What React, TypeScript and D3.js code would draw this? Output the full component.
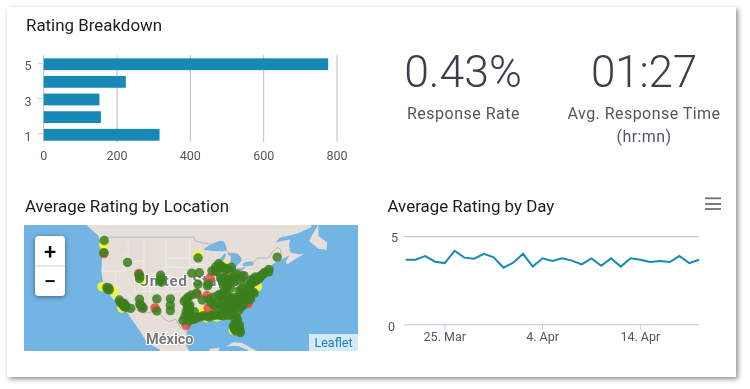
import React from "react";
import * as d3 from "d3";

const ratingLabels = ["5", "4", "3", "2", "1"];
const ratingCounts = [776, 224, 152, 156, 316];
const countTicks = [0, 200, 400, 600, 800];

const dayValues = [3.69, 3.69, 3.9, 3.58, 3.5, 4.2, 3.81, 3.75, 4.03, 3.83, 3.24, 3.52, 4.03, 3.3, 3.77, 3.62, 3.77, 3.64, 3.43, 3.77, 3.35, 3.77, 3.3, 3.77, 3.69, 3.56, 3.62, 3.56, 3.9, 3.5, 3.69];
const dayStart = Date.UTC(2019, 2, 21);
const dayTicks = [Date.UTC(2019, 2, 25), Date.UTC(2019, 3, 4), Date.UTC(2019, 3, 14)];
const dayTickLabels = ["25. Mar", "4. Apr", "14. Apr"];

const northAmerica: [number, number][] = [[-140,62],[-135,58],[-130,54.5],[-129,51.8],[-125.5,49.8],[-124.7,48.4],[-124.2,46],[-124.5,42],[-124,39.5],[-122.8,37.5],[-120.8,35],[-118.5,34],[-117.1,32.5],[-115,29.8],[-112,26],[-110,23],[-106,21],[-105,15],[-90,15],[-90,18],[-88,18],[-87,21.5],[-90,21.2],[-91,18.7],[-94.5,18.2],[-96,19.5],[-97.5,22],[-97.5,25.5],[-97.2,27.7],[-94.8,29.4],[-93,29.7],[-90,29.1],[-89,30.3],[-85.5,29.8],[-84,30],[-82.8,28],[-81.8,26],[-81,25.1],[-80.2,25.7],[-80.5,28],[-81.4,30.5],[-79,33.2],[-76,34.8],[-75.5,36],[-76,37.5],[-75,38.5],[-74,40.5],[-72,41],[-70,41.7],[-71,42.5],[-70,43.7],[-67,44.8],[-64.8,45.6],[-66,44.2],[-65.5,43.5],[-63,44.7],[-60,46],[-61.5,45.8],[-64.5,46.2],[-65,48],[-64.5,49],[-69,48.5],[-68,49.3],[-62,50.3],[-58,51.5],[-57,53],[-57,62]];
const newfoundland: [number, number][] = [[-58.6,48.7],[-57.5,50],[-55.7,52],[-55.5,49.7],[-52.8,48.4],[-53,46.8],[-55.5,47]];
const cuba: [number, number][] = [[-85,21.9],[-82.5,23.1],[-80,23],[-76,21],[-74.2,20.2],[-77.5,19.9],[-78,20.8],[-81,22],[-83,22]];
const lakes: [number, number][][] = [
  [[-92,46.8],[-89,48.2],[-86,48.7],[-84.7,47],[-85,46.6],[-87.5,46.5],[-90,46.6]],
  [[-87.8,42],[-87.6,44],[-85.2,46],[-85,45.6],[-86.3,43.5],[-86.7,41.8]],
  [[-84.5,46],[-81.5,46],[-80,44.6],[-81.7,43.2],[-82.5,43],[-83.5,44],[-83.4,45.2]],
  [[-83.3,41.7],[-81.5,41.6],[-78.9,42.8],[-80.5,42.7],[-83,42.1]],
  [[-79.7,43.3],[-76.3,43.4],[-76.4,44.1],[-79.2,43.9]],
  [[-70.5,47.2],[-68,49],[-66.5,50],[-68,48.8],[-70,47.6]],
];
const borders: [number, number][][] = [
  [[-123,49.5],[-95.2,49.5],[-94.6,48.7],[-92,48.3],[-89.5,48],[-84.6,46.5],[-82.5,45.3],[-82.4,43],[-83,42],[-79,42.8],[-79,43.4],[-76.8,43.7],[-75,45],[-71.5,45],[-70,46.5],[-68.5,47.3],[-67.7,47],[-67.4,45.3]],
  [[-117.1,32.5],[-114.7,32.7],[-111,31.3],[-108.2,31.7],[-106.5,31.8],[-104.5,29.6],[-103,29],[-101,29.7],[-99.5,27.5],[-97.2,25.9]],
];
const stateLines: [number, number][][] = [
  [[-116,49],[-116,44],[-111,44.5]],[[-111,49],[-111,37]],[[-104,49],[-104,37]],[[-117,46],[-117,42],[-124.3,42]],[[-120,42],[-120,39],[-114.6,35]],[[-114,42],[-114,37]],[[-114,37],[-102,37],[-94.6,37]],[[-111,41],[-102,41],[-102,37]],[[-104,45],[-96.5,45]],[[-104,43],[-96.5,42.7]],[[-109,41],[-109,31.5]],[[-103,37],[-103,32],[-106.5,32]],[[-96.5,49],[-96.5,42.5],[-94.6,39],[-94.6,36.5],[-94.4,33.5]],[[-91.5,43.5],[-96.5,43.5]],[[-91,40.6],[-95.7,40.6]],[[-94.6,36.5],[-89.5,36.5],[-81.7,36.6],[-75.9,36.6]],[[-91,33],[-94,33]],[[-85,35],[-91,35]],[[-88.2,35],[-88.4,30.3]],[[-85.2,35],[-85,31],[-84.9,30.7],[-87.5,31]],[[-81,35],[-83.3,35],[-85,35]],[[-84.8,41.7],[-84.8,39.1]],[[-87.5,41.7],[-87.6,39],[-88,37.8]],[[-80.5,42],[-80.5,39.7],[-75.7,39.7]],[[-79.8,42.2],[-75.3,42]],[[-73.5,45],[-73.5,41]],[[-71.5,45],[-71,42.9]],
];

const greenCities: [number, number][] = [[-123.6,48.8],[-123.7,46.2],[-116.2,44],[-112.6,41.2],[-112.3,40.7],[-112.4,40.2],[-105.7,41],[-105.6,40.3],[-105.7,39.7],[-105.5,39.3],[-122.8,38],[-122.5,37.6],[-122.2,37.9],[-122,37.4],[-118.8,34.8],[-118.5,34.2],[-118.1,34],[-117.8,33.7],[-117.4,34],[-117.5,33.3],[-117.1,33],[-116.8,33.4],[-116.6,32.9],[-115.2,32.6],[-112.4,35],[-112.3,33.7],[-112,33.4],[-111.7,33.2],[-111.2,32.7],[-106.9,35.1],[-106.9,31.9],[-102.6,35.1],[-102.6,33.4],[-102.6,32],[-98.6,29.3],[-98,30.4],[-97.6,31.7],[-97.2,32.7],[-96.9,33.2],[-96.6,32.8],[-96.4,33.5],[-96.4,32.2],[-97.3,33.6],[-97.6,35],[-96.9,35.6],[-98.2,34.5],[-95.4,29.8],[-95.8,30.1],[-95.1,29.6],[-96.7,29.2],[-97,30.6],[-96.2,31],[-95,31.7],[-94.1,30.2],[-93.3,30.3],[-92.2,30.6],[-91.2,30.5],[-90.3,30.2],[-89.6,30.7],[-88.7,30.7],[-88.2,30.8],[-87.2,30.8],[-86.5,30.7],[-85.8,30.6],[-84.4,30.7],[-95.9,36.1],[-93.8,38.8],[-95.8,41.5],[-93.4,41.6],[-93.8,45],[-90.5,38.9],[-90.8,38.4],[-92.5,34.8],[-94.3,36.6],[-90.3,35],[-89.8,34.2],[-88.9,33.5],[-88,33],[-87.5,34.4],[-88.8,35.6],[-87.3,36.1],[-86.8,36.2],[-86.3,35.8],[-85.8,36.8],[-85,36],[-84.5,35.8],[-84.5,39.2],[-85.7,38.4],[-84.7,38],[-83.6,37.8],[-83,40],[-82.3,40.6],[-81.7,41.3],[-82.6,39.3],[-84.1,40],[-85.7,40.2],[-86.3,39.8],[-86.7,40.3],[-87.8,41.9],[-88.3,42],[-88.2,43],[-89.4,42],[-87.3,43.7],[-86.5,43.2],[-85.8,42.8],[-85.2,42.2],[-84.4,42.6],[-83.7,42.2],[-83.2,42.9],[-80,40.4],[-79.3,40.9],[-80.3,39.5],[-79.9,37.6],[-80.8,37.2],[-78.5,38],[-77.5,37.6],[-77,37],[-76.3,36.8],[-76,36.5],[-77,38.9],[-77.3,38.5],[-76.6,39.3],[-75.6,39.5],[-75.2,39.9],[-74.8,40],[-74.3,40.3],[-74,40.7],[-73.7,41],[-73,41.3],[-72.7,41.7],[-71.4,41.8],[-71.3,42.4],[-76.2,40.2],[-75.5,40.6],[-77.5,39.8],[-68.7,45.2],[-77.5,36],[-78,35.7],[-78.7,35.8],[-78,34.8],[-77.2,35],[-79,35.2],[-79.5,35],[-79.8,36.1],[-80.3,36],[-80,34.5],[-80.5,34],[-80.8,35.2],[-81.2,35.4],[-80.8,33.5],[-81.5,33.2],[-81.2,34.2],[-82,34.8],[-82.6,35.5],[-83.2,35],[-82,32.7],[-82.5,32.2],[-83,33],[-83.5,32.2],[-81,32],[-80.2,32.9],[-79.5,33.4],[-84.4,33.7],[-84.3,34.2],[-84.7,33.3],[-83.6,33.9],[-85,32.5],[-85.5,33],[-86.3,32.4],[-86.8,33.5],[-85.8,34.4],[-85.5,31.3],[-84.2,31.6],[-83.3,30.9],[-81.7,30.3],[-82.2,29.7],[-81.4,28.8],[-81.7,28.2],[-82.4,28],[-82.6,27.6],[-82.1,27],[-81.8,26.4],[-81.2,27.4],[-80.7,28],[-80.6,27],[-80.5,26.3],[-80.4,25.9],[-81.3,29.5],[-82.2,26.7]];
const yellowCities: [number, number][] = [[-85.6,43.3],[-83,40.5],[-84.3,38],[-89.7,35.2],[-92.6,31.9],[-82.4,30.2],[-91,30],[-120.8,37.2],[-120.5,36.9],[-123.7,47.9],[-118,32.7],[-124.3,38.2],[-75,38.2],[-93.8,45.6],[-82.6,26.6],[-87.8,30.3],[-112,40]];
const redCities: [number, number][] = [[-97.6,28],[-123.7,46],[-112.6,41.4],[-107.5,32.7],[-111.6,32.7],[-78.6,34.2],[-77.9,33.9],[-90.6,32.7],[-94.1,36.3],[-91,35.9],[-90,40.3],[-77.3,35],[-94.1,30],[-85.3,40.5],[-80.2,41],[-84.6,38.3],[-89,31]];

const W = 750, H = 389;
const blue = "#158ab5";
const ink = "#555560";
const font = "Roboto, 'Open Sans', sans-serif";

export default function App() {
  const xBar = d3.scaleLinear().domain([0, 800]).range([43.7, 337]);
  const yBar = d3.scaleBand<string>().domain(ratingLabels).range([55.5, 143.5]).paddingInner(0.33).paddingOuter(0.16);

  const xDay = d3.scaleUtc().domain([dayStart, dayStart + 30 * 864e5]).range([405.7, 699]);
  const yDay = d3.scaleLinear().domain([0, 5]).range([324.7, 236.7]);
  const dayLine = d3.line<number>().x((_, i) => xDay(dayStart + i * 864e5)).y(d => yDay(d));

  const proj = d3.geoMercator().scale(180.5).translate([0, 0]);
  const o = proj([-117, 32.7]) as [number, number];
  proj.translate([125 - o[0], 308 - o[1]]);
  const ln = d3.line<[number, number]>().x(d => (proj(d) as number[])[0]).y(d => (proj(d) as number[])[1]);
  const smooth = d3.line<[number, number]>().x(d => (proj(d) as number[])[0]).y(d => (proj(d) as number[])[1]).curve(d3.curveCatmullRomClosed.alpha(0.5));

  const dots = (list: [number, number][], fill: string, op: number, r: number) =>
    list.map((d, i) => {
      const p = proj(d) as [number, number];
      return <circle key={fill + i} cx={p[0]} cy={p[1]} r={r} fill={fill} fillOpacity={op} />;
    });

  return (
    <svg width={W} height={H} style={{ position: "absolute", left: 0, top: 0, fontFamily: font }}>
      <defs>
        <filter id="card" x="-5%" y="-5%" width="110%" height="110%">
          <feDropShadow dx="2" dy="2" stdDeviation="2.5" floodColor="#000" floodOpacity="0.45" />
        </filter>
        <filter id="ctl" x="-30%" y="-30%" width="160%" height="160%">
          <feDropShadow dx="0" dy="1" stdDeviation="2.5" floodColor="#000" floodOpacity="0.45" />
        </filter>
        <filter id="soft" x="0" y="0" width="100%" height="100%" filterUnits="objectBoundingBox">
          <feGaussianBlur stdDeviation="0.35" />
        </filter>
        <clipPath id="mapClip"><rect x={24} y={225} width={334} height={126} /></clipPath>
      </defs>
      <rect width={W} height={H} fill="#fff" />
      <rect x={7} y={7} width={729} height={370} fill="#fff" filter="url(#card)" />

      <g filter="url(#soft)">
      <rect x={7} y={7} width={729} height={370} fill="#fff" />
      <text x={26} y={31} fontSize={16.9} fill="#1c1c22">Rating Breakdown</text>
      {countTicks.map(t => (
        <g key={t}>
          <line x1={xBar(t)} x2={xBar(t)} y1={55} y2={142} stroke="#bdbdbd" strokeWidth={1} />
          <text x={xBar(t)} y={160} fontSize={12.5} textAnchor="middle" fill={ink}>{t}</text>
        </g>
      ))}
      {ratingLabels.map((r, i) => (
        <rect key={r} x={xBar(0)} y={yBar(r)} width={xBar(ratingCounts[i]) - xBar(0)} height={yBar.bandwidth()} fill={blue} />
      ))}
      {ratingLabels.filter(r => r !== "4" && r !== "2").map(r => (
        <g key={r}>
          <line x1={38} x2={43.7} y1={yBar(r)! + yBar.bandwidth() / 2 - 1} y2={yBar(r)! + yBar.bandwidth() / 2 - 1} stroke="#c4c4c4" />
          <text x={28} y={yBar(r)! + yBar.bandwidth() / 2 + 6} fontSize={12.5} textAnchor="middle" fill={ink}>{r}</text>
        </g>
      ))}

      <text x={463} y={87} fontSize={44.5} fontWeight={300} textAnchor="middle" fill="#3c3c4e">0.43%</text>
      <text x={644} y={87} fontSize={44} fontWeight={300} textAnchor="middle" fill="#3c3c4e" letterSpacing={-0.2}>01:27</text>
      <text x={463.5} y={119} fontSize={16} textAnchor="middle" fill={ink} letterSpacing={0.5}>Response Rate</text>
      <text x={644} y={119} fontSize={16} textAnchor="middle" fill={ink} letterSpacing={0.45}>Avg. Response Time</text>
      <text x={644} y={142} fontSize={16} textAnchor="middle" fill={ink} letterSpacing={0.4}>(hr:mn)</text>

      <text x={25} y={212} fontSize={16.9} fill="#1c1c22">Average Rating by Location</text>
      <g clipPath="url(#mapClip)">
        <rect x={24} y={225} width={334} height={126} fill="#72b4e3" />
        <path d={ln(northAmerica)! + "Z"} fill="#e6dfd9" />
        <path d={ln(newfoundland)! + "Z"} fill="#e6dfd9" />
        <path d={ln(cuba)! + "Z"} fill="#e6dfd9" />
        {stateLines.map((s, i) => <path key={i} d={ln(s)!} fill="none" stroke="#f2eeea" strokeWidth={0.8} />)}
        {lakes.map((l, i) => <path key={i} d={smooth(l)!} fill="#72b4e3" />)}
        {borders.map((b, i) => <path key={i} d={ln(b)!} fill="none" stroke="#b2b2ba" strokeWidth={0.9} />)}
        <text x={139} y={286} fontSize={15} fontWeight={700} fill="#777" stroke="#fff" strokeWidth={2} paintOrder="stroke" letterSpacing={0.8}>United States</text>
        <text x={146} y={344} fontSize={14.5} fontWeight={700} fill="#777" stroke="#fff" strokeWidth={2} paintOrder="stroke">México</text>
        {dots(yellowCities, "#f6f43a", 0.95, 4.8)}
        {dots(redCities, "#f03c3c", 0.8, 4.8)}
        {dots(greenCities, "#3b7f1e", 0.85, 4.7)}
        <rect x={309} y={334} width={49} height={17} fill="#fff" fillOpacity={0.7} />
        <text x={333.5} y={347} fontSize={12.5} textAnchor="middle" fill="#1a82b0">Leaflet</text>
      </g>
      <rect x={35} y={236} width={30} height={60} rx={4} fill="#fff" filter="url(#ctl)" />
      <line x1={35} x2={65} y1={266} y2={266} stroke="#ccc" />
      <text x={50} y={259} fontSize={22} fontWeight={500} textAnchor="middle" fill="#111">+</text>
      <text x={50} y={289} fontSize={22} fontWeight={500} textAnchor="middle" fill="#111">−</text>

      <text x={387.5} y={212} fontSize={16.9} fill="#1c1c22">Average Rating by Day</text>
      {[198.3, 204, 209].map(y => <line key={y} x1={705} x2={721} y1={y} y2={y} stroke="#6f6f78" strokeWidth={1.8} />)}
      <line x1={404} x2={699} y1={yDay(5)} y2={yDay(5)} stroke="#bcbcbc" />
      <line x1={404} x2={699} y1={yDay(0)} y2={yDay(0)} stroke="#d0d0d8" strokeWidth={1.2} />
      <text x={391} y={242} fontSize={12.5} fill={ink}>5</text>
      <text x={388} y={331} fontSize={12.5} fill={ink}>0</text>
      {dayTicks.map((t, i) => (
        <g key={t}>
          <line x1={xDay(t)} x2={xDay(t)} y1={325} y2={330} stroke="#ccd" />
          <text x={xDay(t)} y={341} fontSize={12.5} textAnchor="middle" fill={ink}>{dayTickLabels[i]}</text>
        </g>
      ))}
      <path d={dayLine(dayValues)!} fill="none" stroke={blue} strokeWidth={2} />
      </g>
    </svg>
  );
}
